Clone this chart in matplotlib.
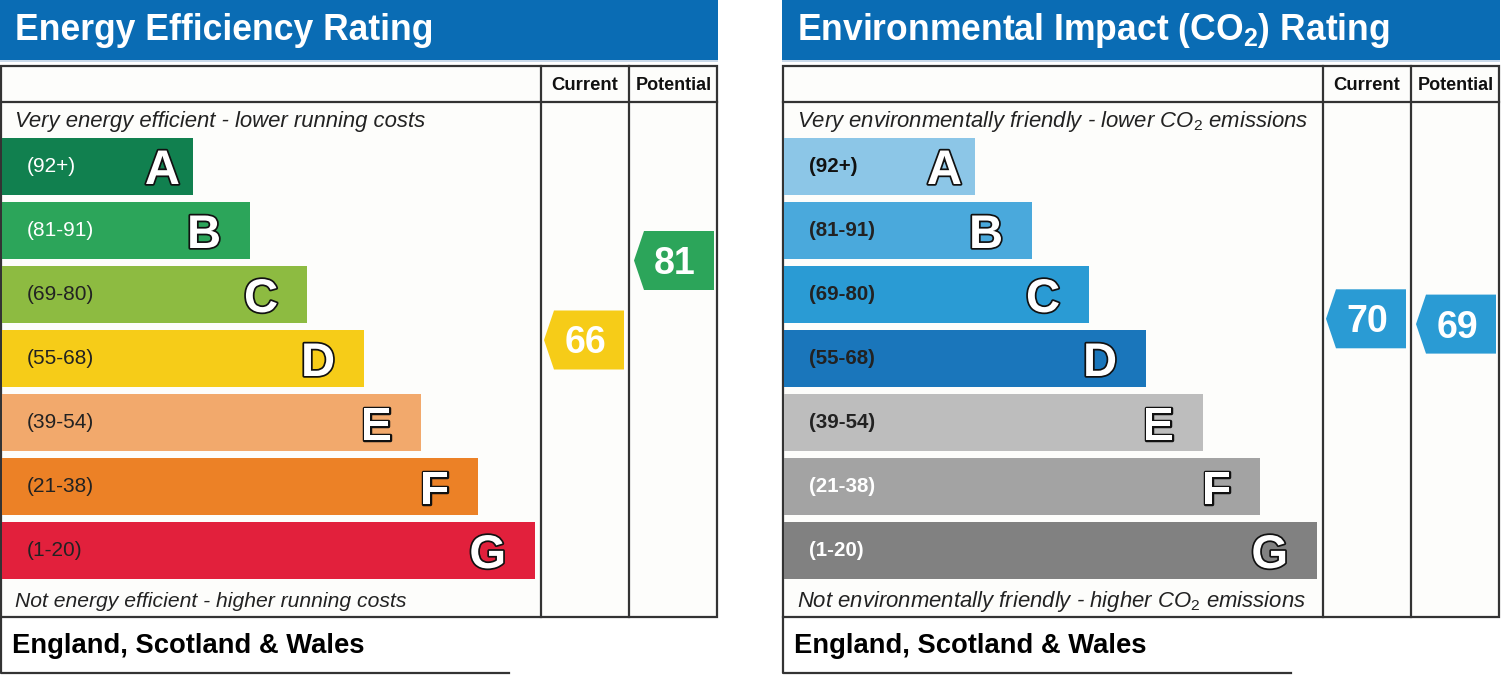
import matplotlib
matplotlib.use("Agg")
import matplotlib.pyplot as plt
from matplotlib.patches import Polygon, Rectangle
import matplotlib.patheffects as pe

plt.rcParams['font.family'] = ['Liberation Sans', 'DejaVu Sans']
plt.rcParams['mathtext.fontset'] = 'custom'
plt.rcParams['mathtext.rm'] = 'Liberation Sans'
plt.rcParams['mathtext.bf'] = 'Liberation Sans:bold'
plt.rcParams['mathtext.it'] = 'Liberation Sans:italic'

# ---------------- data ----------------
bands = ['A', 'B', 'C', 'D', 'E', 'F', 'G']
band_ranges = ['(92+)', '(81-91)', '(69-80)', '(55-68)', '(39-54)', '(21-38)', '(1-20)']
ee_colors = ['#11804f', '#2ca55a', '#8dbb41', '#f6cc18', '#f2a96c', '#ec8126', '#e2203c']
ee_range_text = ['white', 'white', '#222222', '#222222', '#222222', '#222222', '#222222']
ei_colors = ['#8cc6e7', '#4aa9dc', '#2a9bd4', '#1a76bb', '#bdbdbd', '#a3a3a3', '#818181']
ei_range_text = ['#111111', '#222222', '#222222', '#222222', '#222222', 'white', 'white']

ee_current, ee_potential = 66, 81
ee_current_color, ee_potential_color = '#f6cc18', '#2ca55a'
ei_current, ei_potential = 70, 69
ei_current_color, ei_potential_color = '#2a9bd4', '#2a9bd4'

ee_title = 'Energy Efficiency Rating'
ee_top = 'Very energy efficient - lower running costs'
ee_bottom = 'Not energy efficient - higher running costs'
ei_title = r'Environmental Impact (CO$_\mathbf{2}$) Rating'
ei_top = r'Very environmentally friendly - lower CO$_2$ emissions'
ei_bottom = r'Not environmentally friendly - higher CO$_2$ emissions'
region = 'England, Scotland & Wales'
col_labels = ['Current', 'Potential']

# ---------------- figure ----------------
W, H = 1501, 675
fig = plt.figure(figsize=(W / 100, H / 100), dpi=100)
ax = fig.add_axes([0, 0, 1, 1])
ax.set_xlim(0, W)
ax.set_ylim(H, 0)
ax.axis('off')

HEADER_BLUE = '#0a6cb4'
LINE = '#333333'
band_y0, band_step, band_h = 166.5, 64.0, 57


def rating_y(v):
    return 689.8 - 5.3 * v


def arrow(x0, v, color):
    yc = rating_y(v)
    hh = 29.5
    pts = [(x0, yc), (x0 + 10, yc - hh), (x0 + 80, yc - hh), (x0 + 80, yc + hh), (x0 + 10, yc + hh)]
    ax.add_patch(Polygon(pts, closed=True, facecolor=color, edgecolor='none', zorder=4))
    ax.text(x0 + 41, yc + 13.5, str(v), color='white', fontsize=27, fontweight='bold',
            ha='center', va='baseline', zorder=5)


def panel(ox, title, top, bottom, colors, rtext, cur, pot, cur_c, pot_c, range_bold, bottom_fs):
    right = ox + 717
    c1, c2 = ox + 541, ox + 629
    # header
    ax.add_patch(Rectangle((ox, 0), 718, 60, facecolor=HEADER_BLUE, edgecolor='none'))
    ax.add_patch(Rectangle((ox, 60), 718, 2, facecolor='#c9d9ea', edgecolor='none'))
    ax.text(ox + 15, 40.5, title, color='white', fontsize=25.6, fontweight='bold',
            ha='left', va='baseline')
    # frame
    ax.add_patch(Rectangle((ox + 1, 65.5), right - ox - 1, 551.5, facecolor='#fdfdfb',
                           edgecolor=LINE, linewidth=1.6, zorder=1))
    ax.plot([ox + 1, right], [102, 102], color=LINE, lw=1.6, zorder=2)
    ax.plot([c1, c1], [65.5, 617], color=LINE, lw=1.6, zorder=2)
    ax.plot([c2, c2], [65.5, 617], color=LINE, lw=1.6, zorder=2)
    ax.text((c1 + c2) / 2, 90, col_labels[0], fontsize=13.3, fontweight='bold',
            ha='center', va='baseline', color='#111111')
    ax.text((c2 + right) / 2 + 1, 90, col_labels[1], fontsize=13.0, fontweight='bold',
            ha='center', va='baseline', color='#111111')
    ax.text(ox + 15, 127, top, fontsize=15.9, style='italic', ha='left', va='baseline',
            color='#222222')
    ax.text(ox + 15, 607, bottom, fontsize=bottom_fs, style='italic', ha='left', va='baseline',
            color='#222222')
    # bars
    ys = [band_y0 + i * band_step for i in range(len(bands))]
    widths = [191 + 57 * i for i in range(len(bands))]
    ax.barh(ys, widths, left=ox + 2, height=band_h, color=colors, edgecolor='none', zorder=3)
    for i, (y, w, b, r, tc) in enumerate(zip(ys, widths, bands, band_ranges, rtext)):
        ax.text(ox + 27, y + 6, r, fontsize=14.8 if range_bold else 15,
                fontweight='bold' if range_bold else 'normal',
                color=tc, ha='left', va='baseline', zorder=4)
        off = 13 if i == 0 else 29
        ax.text(ox + 2 + w - off, y + 17.5, b, fontsize=35 if i == 0 else 34,
                fontweight='bold', color='white',
                ha='right', va='baseline', zorder=4,
                path_effects=[pe.withStroke(linewidth=2.5, foreground='#111111')])
    # arrows
    arrow(c1 + 3, cur, cur_c)
    arrow(c2 + 5, pot, pot_c)
    # region box
    ax.plot([ox + 1, ox + 1, ox + 509], [617, 673, 673], color=LINE, lw=1.6, zorder=2)
    ax.text(ox + 12, 653, region, fontsize=19.7, fontweight='bold', ha='left', va='baseline',
            color='black')


panel(0, ee_title, ee_top, ee_bottom, ee_colors, ee_range_text, ee_current, ee_potential,
      ee_current_color, ee_potential_color, False, 15.2)
panel(782, ei_title, ei_top, ei_bottom, ei_colors, ei_range_text, ei_current, ei_potential,
      ei_current_color, ei_potential_color, True, 15.9)

fig.savefig('out.png', dpi=100, facecolor='white')
